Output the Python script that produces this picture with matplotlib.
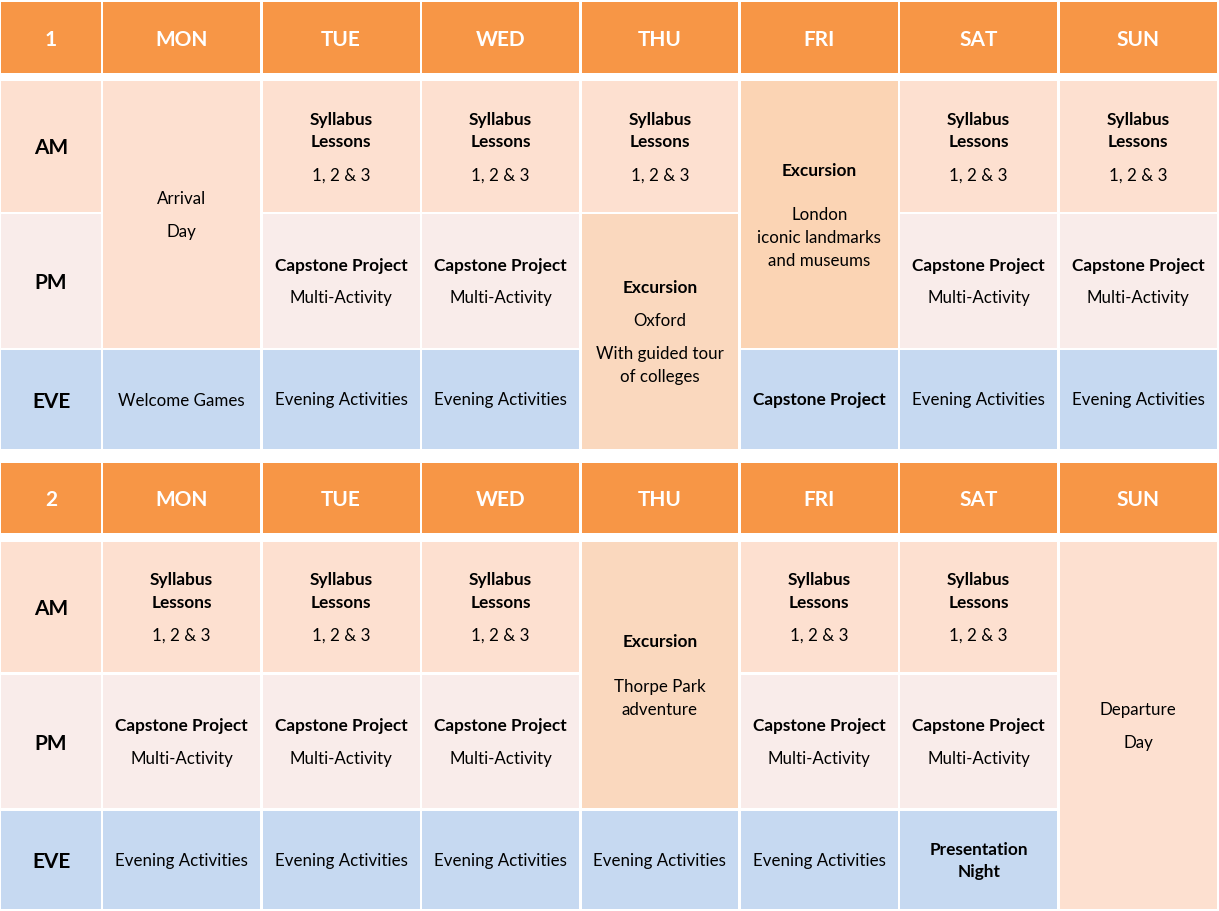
import matplotlib
matplotlib.use("Agg")
import matplotlib.pyplot as plt
from matplotlib.patches import Rectangle

plt.rcParams['font.family'] = ['Lato', 'DejaVu Sans']

# ---- data ----
days = ["MON", "TUE", "WED", "THU", "FRI", "SAT", "SUN"]
slots = ["AM", "PM", "EVE"]
week_labels = ["1", "2"]

# a cell: (slot index, day index, slot span, kind, paragraphs)
# paragraphs: list of (text, bold); "" = small blank paragraph
SYL = [("Syllabus\nLessons", True), ("1, 2 & 3", False)]
CAP = [("Capstone Project", True), ("Multi-Activity", False)]
EVA = [("Evening Activities", False)]

week1 = [
    (0, 0, 2, "am", [("Arrival", False), ("Day", False)]),
    (0, 1, 1, "am", SYL), (0, 2, 1, "am", SYL), (0, 3, 1, "am", SYL),
    (0, 4, 2, "exc2", [("Excursion", True), ("", False),
                       ("London\niconic landmarks\nand museums", False)]),
    (0, 5, 1, "am", SYL), (0, 6, 1, "am", SYL),
    (1, 1, 1, "pm", CAP), (1, 2, 1, "pm", CAP),
    (1, 3, 2, "exc", [("Excursion", True), ("Oxford", False),
                      ("With guided tour\nof colleges", False)]),
    (1, 5, 1, "pm", CAP), (1, 6, 1, "pm", CAP),
    (2, 0, 1, "eve", [("Welcome Games", False)]),
    (2, 1, 1, "eve", EVA), (2, 2, 1, "eve", EVA),
    (2, 4, 1, "eve", [("Capstone Project", True)]),
    (2, 5, 1, "eve", EVA), (2, 6, 1, "eve", EVA),
]

week2 = [
    (0, 0, 1, "am", SYL), (0, 1, 1, "am", SYL), (0, 2, 1, "am", SYL),
    (0, 3, 2, "exc", [("Excursion", True), ("", False),
                      ("Thorpe Park\nadventure", False)]),
    (0, 4, 1, "am", SYL), (0, 5, 1, "am", SYL),
    (0, 6, 3, "am", [("Departure", False), ("Day", False)]),
    (1, 0, 1, "pm", CAP), (1, 1, 1, "pm", CAP), (1, 2, 1, "pm", CAP),
    (1, 4, 1, "pm", CAP), (1, 5, 1, "pm", CAP),
    (2, 0, 1, "eve", EVA), (2, 1, 1, "eve", EVA), (2, 2, 1, "eve", EVA),
    (2, 3, 1, "eve", EVA), (2, 4, 1, "eve", EVA),
    (2, 5, 1, "eve", [("Presentation\nNight", True)]),
]
weeks = [week1, week2]

# ---- style / layout ----
colors = {
    "head": "#F79646",
    "am": "#FDE0D0",
    "pm": "#F9ECEA",
    "eve": "#C6D9F1",
    "exc": "#FAD8BE",
    "exc2": "#FBD4B4",
}
W, H = 1219, 911
col_edges = [0, 102] + [102 + 159.4 * (i + 1) for i in range(7)]
row_h = [133, 136, 101]
head_h = 73
block_tops = [1, 461.5]
LINE = 22.5
PARA = 10.5
BLANK = 12
GAP = 1.3
DY = 2    # header / slot labels sit a touch low
DY_CELL = 1

fig = plt.figure(figsize=(W / 100, H / 100), dpi=100)
ax = fig.add_axes([0, 0, 1, 1])
ax.set_xlim(0, W)
ax.set_ylim(H, 0)
ax.axis("off")


def box(x0, x1, y0, y1, color):
    ax.add_patch(Rectangle((x0 + GAP, y0 + GAP), x1 - x0 - 2 * GAP,
                           y1 - y0 - 2 * GAP, facecolor=color,
                           edgecolor="none"))


def cell_text(xc, yc, paras):
    # list of (text, bold, y) lines centred on yc
    lines = []
    y = 0
    for txt, bold in paras:
        if txt == "":
            y += BLANK
            continue
        if lines:
            y += PARA
        for ln in txt.split("\n"):
            if lines:
                y += LINE
            lines.append((ln, bold, y))
    off = yc - y / 2 + DY_CELL
    for ln, bold, yy in lines:
        ax.text(xc, off + yy, ln, ha="center", va="center",
                fontsize=12.4 if bold else 12.2,
                fontweight="bold" if bold else "normal", color="#000000")


for w, top in enumerate(block_tops):
    # header row
    y0, y1 = top, top + head_h
    box(col_edges[0], col_edges[1], y0, y1, colors["head"])
    ax.text((col_edges[0] + col_edges[1]) / 2, (y0 + y1) / 2 + DY,
            week_labels[w], ha="center", va="center", fontsize=15,
            fontweight="bold", color="white")
    for d, day in enumerate(days):
        box(col_edges[d + 1], col_edges[d + 2], y0, y1, colors["head"])
        ax.text((col_edges[d + 1] + col_edges[d + 2]) / 2, (y0 + y1) / 2 + DY,
                day, ha="center", va="center", fontsize=15,
                fontweight="bold", color="white")
    # body rows
    row_edges = [top + head_h + 6]
    for h in row_h:
        row_edges.append(row_edges[-1] + h)
    for s, slot in enumerate(slots):
        kind = ["am", "pm", "eve"][s]
        box(col_edges[0], col_edges[1], row_edges[s], row_edges[s + 1],
            colors[kind])
        ax.text((col_edges[0] + col_edges[1]) / 2,
                (row_edges[s] + row_edges[s + 1]) / 2 + DY, slot,
                ha="center", va="center", fontsize=15, fontweight="bold",
                color="black")
    for s, d, span, kind, paras in weeks[w]:
        x0, x1 = col_edges[d + 1], col_edges[d + 2]
        ya, yb = row_edges[s], row_edges[s + span]
        box(x0, x1, ya, yb, colors[kind])
        cell_text((x0 + x1) / 2, (ya + yb) / 2, paras)

fig.savefig("out.png", dpi=100, facecolor="white")
